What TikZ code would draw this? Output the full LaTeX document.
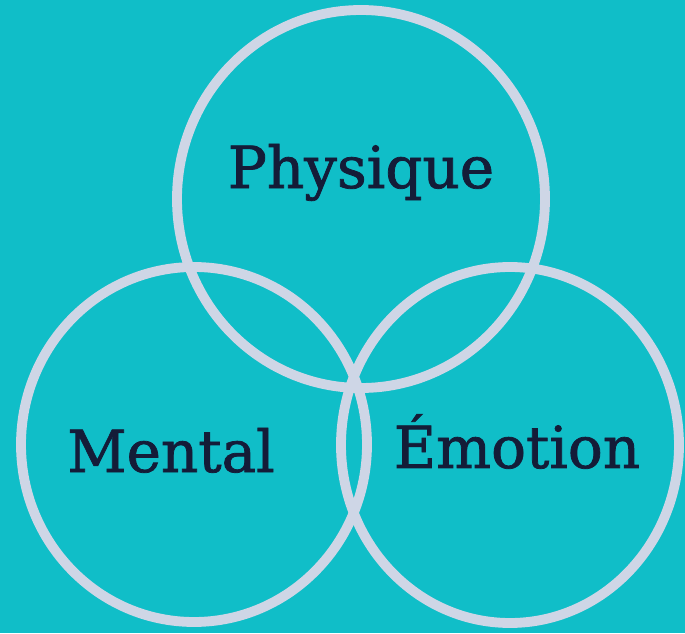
\documentclass[tikz,border=0pt]{standalone}
\usepackage{fontspec}
\newfontfamily\wordfont[FakeBold=1.3]{DejaVu Serif}
\usetikzlibrary{positioning}
\definecolor{lagoon}{RGB}{16,190,200}
\definecolor{mist}{RGB}{206,214,230}
\definecolor{ink}{RGB}{20,28,56}
\tikzset{
  ring/.style={draw=mist,line width=5.6pt},
  word/.style={text=ink,anchor=base,inner sep=0pt,
    font=\wordfont\fontsize{33}{38}\selectfont},
}
\begin{document}
\begin{tikzpicture}
  \fill[lagoon] (0,0) rectangle (13.7,12.66);
  \useasboundingbox (0,0) rectangle (13.7,12.66);
  % the three rings
  \draw[ring] (7.22,8.68) ellipse [x radius=3.68,y radius=3.78];
  \draw[ring] (3.88,3.77) ellipse [x radius=3.46,y radius=3.55];
  \draw[ring] (10.2,3.76) ellipse [x radius=3.38,y radius=3.56];
  % labels
  \node[word] (physique) at (7.22,8.9) {Physique};
  \node[word] (mental) at (3.42,3.22) {Mental};
  \node[word] (emotion) at (10.34,3.30) {Émotion};
\end{tikzpicture}
\end{document}
